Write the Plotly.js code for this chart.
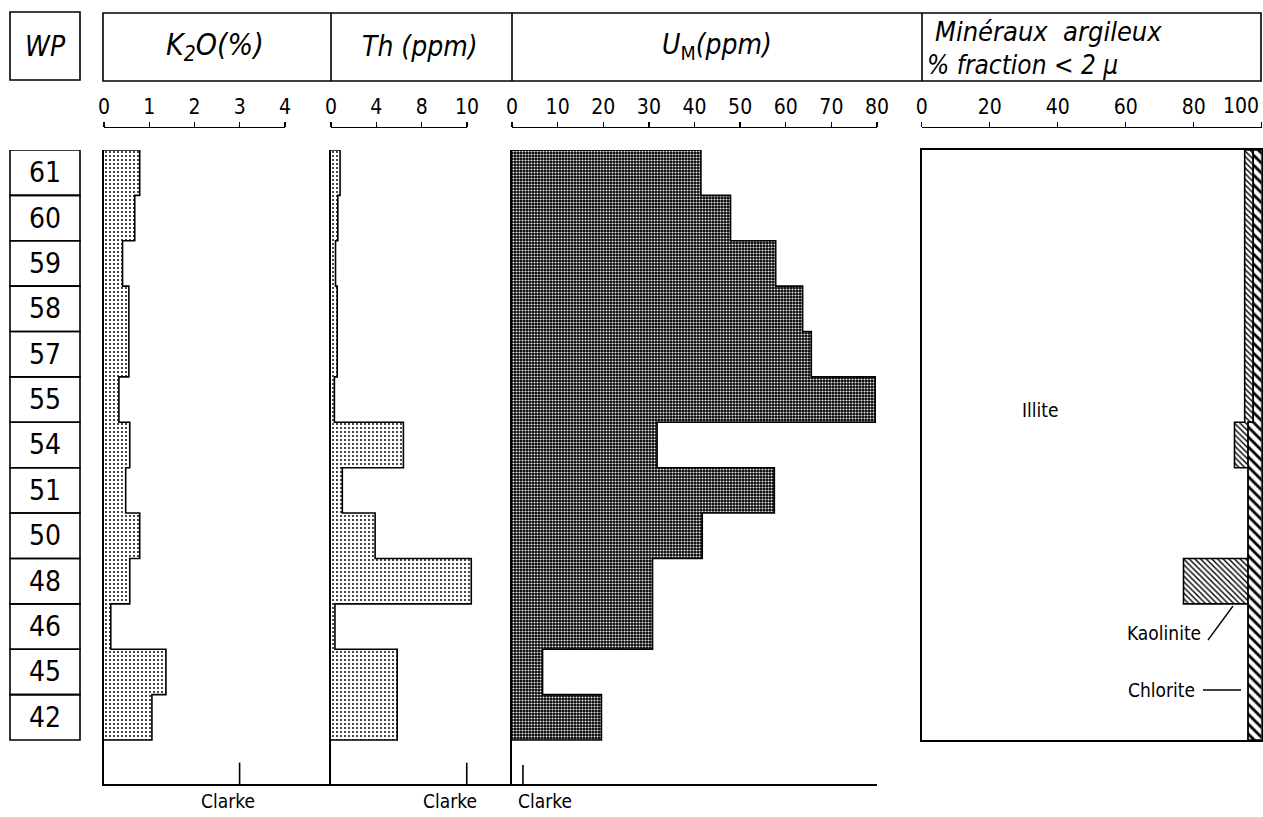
<!DOCTYPE html>
<html><head><meta charset="utf-8">
<script src="https://cdn.plot.ly/plotly-3.0.1.min.js"></script>
<style>body{margin:0;background:#fff}#chart{width:1263px;height:817px}</style>
</head><body><div id="chart"></div>
<script>
// ---- data (top to bottom) ----
const wells = ['61','60','59','58','57','55','54','51','50','48','46','45','42'];
const k2o = [0.79,0.68,0.41,0.55,0.55,0.33,0.57,0.48,0.79,0.57,0.15,1.37,1.06];
// Th read in the drawn scale units (equal tick spacing labelled 0,4,8,10)
const th = [0.8,0.6,0.4,0.55,0.55,0.3,6.4,1.0,3.9,12.4,0.35,5.85,5.85];
const uM = [41.4,47.9,57.8,63.7,65.6,79.6,31.8,57.5,41.7,30.8,30.8,6.7,19.6];
const illite    = [95,95,95,95,95,95,92,96,96,77,96,96,96];
const kaolinite = [2.5,2.5,2.5,2.5,2.5,2.5,4,0,0,19,0,0,0];
const chlorite  = [2.5,2.5,2.5,2.5,2.5,2.5,4,4,4,4,4,4,4];
const clarkeK2O = 3, clarkeTh = 12, clarkeU = 2.4;
const k2oTicks = [0,1,2,3,4];
const thTickVals = [0,4,8,12], thTickText = ['0','4','8','10'];
const uTicks = [0,10,20,30,40,50,60,70,80];
const clayTicks = [0,20,40,60,80,100];
const clayTickText = ['0','20','40','60','80',''];  // "100" drawn as an annotation (edge of page)

const W = 1263, H = 817;
const px = v => v / W, py = v => 1 - v / H;
const FONT = 'DejaVu Sans Condensed, Liberation Sans Narrow, DejaVu Sans, sans-serif';
const yBottom = 13.97;

function stepShape(vals){
  const x=[0], y=[0];
  vals.forEach((v,i)=>{x.push(v,v); y.push(i,i+1);});
  x.push(0); y.push(vals.length);
  return {x,y};
}
function band(left,right){
  const x=[], y=[];
  left.forEach((v,i)=>{x.push(v,v); y.push(i,i+1);});
  for(let i=right.length-1;i>=0;i--){x.push(right[i],right[i]); y.push(i+1,i);}
  x.push(left[0]); y.push(0);
  return {x,y};
}
const line = {color:'#000', width:1.6};
const stipple = {shape:'.', fgcolor:'#000', bgcolor:'#fff', size:4, solidity:0.18};
const check = {shape:'.', fgcolor:'#e8e8e8', bgcolor:'#000', size:3, solidity:0.4};

const kaoL = illite, kaoR = illite.map((v,i)=>v+kaolinite[i]);
const chlL = kaoR, chlR = kaoR.map((v,i)=>v+chlorite[i]);

const s1 = stepShape(k2o), s2 = stepShape(th), s3 = stepShape(uM);
const bK = band(kaoL,kaoR), bC = band(chlL,chlR);

const traces = [
  {x:s1.x, y:s1.y, xaxis:'x', yaxis:'y', mode:'lines', line, fill:'toself', fillcolor:'#fff', fillpattern:stipple, hoverinfo:'skip'},
  {x:s2.x, y:s2.y, xaxis:'x2', yaxis:'y2', mode:'lines', line, fill:'toself', fillcolor:'#fff', fillpattern:stipple, hoverinfo:'skip'},
  {x:s3.x, y:s3.y, xaxis:'x3', yaxis:'y3', mode:'lines', line, fill:'toself', fillcolor:'#000', fillpattern:check, hoverinfo:'skip'},
  {x:bK.x, y:bK.y, xaxis:'x4', yaxis:'y4', mode:'lines', line, fill:'toself', fillcolor:'#fff',
   fillpattern:{shape:'\\', fgcolor:'#000', bgcolor:'#fff', size:4, solidity:0.35}, hoverinfo:'skip'},
  {x:bC.x, y:bC.y, xaxis:'x4', yaxis:'y4', mode:'lines', line, fill:'toself', fillcolor:'#fff',
   fillpattern:{shape:'\\', fgcolor:'#000', bgcolor:'#fff', size:7, solidity:0.4}, hoverinfo:'skip'},
  // Clarke marks
  {x:[clarkeK2O,clarkeK2O], y:[13.5,yBottom], xaxis:'x', yaxis:'y', mode:'lines', line, hoverinfo:'skip'},
  {x:[clarkeTh,clarkeTh], y:[13.5,yBottom], xaxis:'x2', yaxis:'y2', mode:'lines', line, hoverinfo:'skip'},
  {x:[clarkeU,clarkeU], y:[13.55,yBottom], xaxis:'x3', yaxis:'y3', mode:'lines', line, hoverinfo:'skip'},
  // dummy traces for scale axes
  {x:[null], y:[null], xaxis:'x5', yaxis:'y5', mode:'lines', hoverinfo:'skip'},
  {x:[null], y:[null], xaxis:'x6', yaxis:'y5', mode:'lines', hoverinfo:'skip'},
  {x:[null], y:[null], xaxis:'x7', yaxis:'y5', mode:'lines', hoverinfo:'skip'},
  {x:[null], y:[null], xaxis:'x8', yaxis:'y5', mode:'lines', hoverinfo:'skip'}
];

const dataX = (d0,d1,r,anchor,extra) => Object.assign({domain:[px(d0),px(d1)], range:r, anchor, showline:true,
  linecolor:'#000', linewidth:1.6, ticks:'', showticklabels:false, showgrid:false, zeroline:false, fixedrange:true}, extra||{});
const dataY = (d0,d1,r,anchor,extra) => Object.assign({domain:[py(d1),py(d0)], range:r, anchor, showline:true,
  linecolor:'#000', linewidth:1.6, ticks:'', showticklabels:false, showgrid:false, zeroline:false, fixedrange:true}, extra||{});
const scaleX = (d0,d1,r,vals,text) => ({domain:[px(d0),px(d1)], range:r, anchor:'free', position:py(127), side:'top',
  showline:true, linecolor:'#000', linewidth:1.4, ticks:'outside', ticklen:5, tickwidth:1.4, tickcolor:'#000',
  tickvals:vals, ticktext:text||vals.map(String), tickfont:{family:FONT, size:21, color:'#000'},
  showgrid:false, zeroline:false, fixedrange:true});

const layout = {
  width:W, height:H, margin:{l:0,r:0,t:0,b:0}, showlegend:false,
  paper_bgcolor:'#fff', plot_bgcolor:'rgba(0,0,0,0)',
  font:{family:FONT, color:'#000'},
  xaxis: dataX(104,330,[0,5],'y'),
  yaxis: dataY(150,784,[yBottom,0],'x'),
  xaxis2: dataX(331,512,[0,16],'y2'),
  yaxis2: dataY(150,784,[yBottom,0],'x2'),
  xaxis3: dataX(512,877,[0,80],'y3'),
  yaxis3: dataY(150,784,[yBottom,0],'x3'),
  xaxis4: dataX(921.7,1261.7,[0,100],'y4',{mirror:true}),
  yaxis4: dataY(150,740,[13,0],'x4',{mirror:true}),
  xaxis5: scaleX(104,285,[0,4],k2oTicks),
  xaxis6: scaleX(331,467,[0,12],thTickVals,thTickText),
  xaxis7: scaleX(512,877,[0,80],uTicks),
  xaxis8: scaleX(921.7,1261.7,[0,100],clayTicks,clayTickText),
  yaxis5: {visible:false, domain:[py(140),py(130)], range:[0,1], anchor:'x5', fixedrange:true},
  shapes: [], annotations: []
};
const S = layout.shapes, A = layout.annotations;
const box = (x0,y0,x1,y1) => S.push({type:'rect', xref:'paper', yref:'paper', x0:px(x0), x1:px(x1), y0:py(y0), y1:py(y1), line:{color:'#000', width:1.6}});
const seg = (x0,y0,x1,y1,w) => S.push({type:'line', xref:'paper', yref:'paper', x0:px(x0), x1:px(x1), y0:py(y0), y1:py(y1), line:{color:'#000', width:w||1.6}});
// header boxes
box(10,12,80,80);
box(103,13,1261,81);
seg(331,13,331,81); seg(512,13,512,81); seg(922,13,922,81);
// WP boxes and labels
wells.forEach((w,i)=>{
  S.push({type:'rect', xref:'paper', yref:'y', x0:px(10), x1:px(80), y0:i, y1:i+1, line:{color:'#000', width:1.6}});
  A.push({text:w, xref:'paper', yref:'y', x:px(45), y:i+0.5, xanchor:'center', yanchor:'middle', showarrow:false, font:{size:28, family:FONT}});
});
const ann = (t,x,y,size,extra) => A.push(Object.assign({text:t, xref:'paper', yref:'paper', x:px(x), y:py(y),
  xanchor:'center', yanchor:'middle', showarrow:false, font:{size, family:FONT}}, extra||{}));
ann('<i>WP</i>',45,46,28);
ann('<i>K<sub>2</sub>O(%)</i>',215,46,30);
ann('<i>Th (ppm)</i>',420,46,28);
ann('<i>U</i><sub>M</sub><i>(ppm)</i>',717,46,28);
ann('<i>Minéraux  argileux</i>',933,32,27,{xanchor:'left'});
ann('<i>% fraction &lt; 2 µ</i>',925,65,26,{xanchor:'left'});
ann('100',1261,106,21,{xanchor:'right'});
ann('Clarke',228,801,19); ann('Clarke',450,801,19); ann('Clarke',545,801,19);
ann('Illite',1040,410,19);
ann('Kaolinite',1203,633,19,{xanchor:'right'});
ann('Chlorite',1197,690,19,{xanchor:'right'});
seg(1208,640,1233,606,1.3);
seg(1203,690,1241,690,1.3);

Plotly.newPlot('chart', traces, layout, {staticPlot:true, displayModeBar:false});
</script></body></html>
